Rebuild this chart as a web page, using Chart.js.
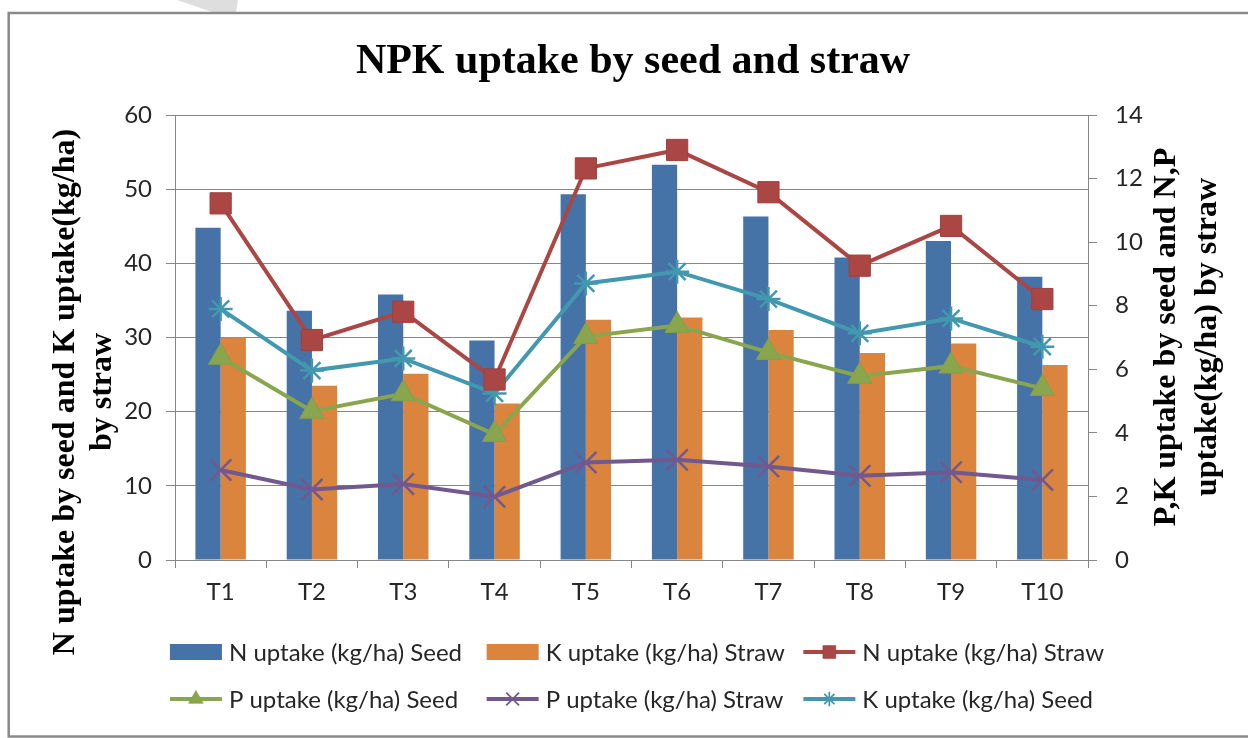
<!DOCTYPE html>
<html>
<head>
<meta charset="utf-8">
<script src="https://cdn.jsdelivr.net/npm/chart.js@4.4.0/dist/chart.umd.min.js"></script>
<style>
  html, body { margin: 0; padding: 0; background: #fff; }
</style>
</head>
<body>
<canvas id="grafico" width="1248" height="738"></canvas>
<script>
// Datos
const categorias = ['T1', 'T2', 'T3', 'T4', 'T5', 'T6', 'T7', 'T8', 'T9', 'T10'];
const nSemilla = [44.8, 33.6, 35.8, 29.6, 49.3, 53.3, 46.3, 40.8, 43.0, 38.2];   // eje izquierdo
const kPaja = [30.0, 23.5, 25.1, 21.1, 32.4, 32.7, 31.0, 27.9, 29.2, 26.3];      // eje izquierdo
const nPaja = [11.22, 6.92, 7.81, 5.68, 12.32, 12.90, 11.57, 9.26, 10.51, 8.21]; // eje derecho
const pSemilla = [6.38, 4.68, 5.23, 3.95, 7.03, 7.38, 6.53, 5.78, 6.10, 5.40];
const pPaja = [2.83, 2.22, 2.39, 1.99, 3.07, 3.15, 2.94, 2.65, 2.76, 2.52];
const kSemilla = [7.90, 5.96, 6.34, 5.24, 8.70, 9.07, 8.21, 7.13, 7.60, 6.71];
const ticksIzq = { min: 0, max: 60, paso: 10 };
const ticksDer = { min: 0, max: 14, paso: 2 };

const titulo = 'NPK uptake by seed and straw';
const tituloIzq = ['N uptake by seed and K uptake(kg/ha)', 'by straw'];
const tituloDer = ['P,K uptake by seed and N,P', 'uptake(kg/ha) by straw'];

const GRIS = '#868686';
const TEXTO = '#262626';

// marco gris y franja de fondo
const marco = {
  id: 'marco',
  beforeDraw(chart) {
    const ctx = chart.ctx;
    ctx.save();
    ctx.fillStyle = '#fff';
    ctx.fillRect(0, 0, chart.width, chart.height);
    ctx.fillStyle = '#dedede';
    ctx.beginPath();
    ctx.moveTo(177, 0); ctx.lineTo(238, 0); ctx.lineTo(236, 12); ctx.lineTo(212, 12);
    ctx.closePath();
    ctx.fill();
    ctx.strokeStyle = '#8a8a8a';
    ctx.lineWidth = 2.5;
    ctx.strokeRect(8.7, 13, 1270, 723.5);
    ctx.restore();
  }
};

// títulos de ejes en dos líneas, girados
const titulosEjes = {
  id: 'titulosEjes',
  afterDraw(chart) {
    const ctx = chart.ctx;
    const dibujar = (lineas, xs, yc) => {
      lineas.forEach((t, i) => {
        ctx.save();
        ctx.translate(xs[i], yc);
        ctx.rotate(-Math.PI / 2);
        ctx.font = 'bold 32px "Liberation Serif"';
        ctx.fillStyle = '#000';
        ctx.textAlign = 'center';
        ctx.textBaseline = 'middle';
        ctx.fillText(t, 0, 0);
        ctx.restore();
      });
    };
    dibujar(tituloIzq, [66, 103], 392);
    dibujar(tituloDer, [1167, 1208], 337);
  }
};

// leyenda en rejilla de 3 columnas, como en el original
const leyenda = {
  id: 'leyenda',
  afterDraw(chart) {
    const ctx = chart.ctx;
    const items = chart.data.datasets;
    ctx.save();
    ctx.font = '24px Lato';
    const anchoIcono = 52, sep = 7, hueco = 16, columnas = 3;
    const anchoCol = Math.max(...items.map(d => anchoIcono + sep + ctx.measureText(d.label).width)) + hueco;
    const x0 = 637 - (anchoCol * columnas - hueco) / 2;
    const filas = [652, 699];
    items.forEach((d, i) => {
      const x = x0 + (i % columnas) * anchoCol;
      const y = filas[Math.floor(i / columnas)];
      if (d.type === 'bar') {
        ctx.fillStyle = d.backgroundColor;
        ctx.fillRect(x, y - 8, anchoIcono, 16);
      } else {
        ctx.strokeStyle = d.borderColor;
        ctx.lineWidth = d.borderWidth;
        ctx.beginPath();
        ctx.moveTo(x, y);
        ctx.lineTo(x + anchoIcono, y);
        ctx.stroke();
        ctx.fillStyle = d.pointBackgroundColor;
        ctx.strokeStyle = d.pointBorderColor;
        ctx.lineWidth = d.pointBorderWidth * 0.7;
        Chart.helpers.drawPoint(ctx, {
          pointStyle: d.pointStyle, radius: d.pointRadius * 0.6,
          borderWidth: d.pointBorderWidth * 0.7, rotation: 0
        }, x + anchoIcono / 2, y);
      }
      ctx.fillStyle = TEXTO;
      ctx.textBaseline = 'middle';
      ctx.textAlign = 'left';
      ctx.fillText(d.label, x + anchoIcono + sep, y + 1);
    });
    ctx.restore();
  }
};

const lineaBase = { type: 'line', yAxisID: 'y1', order: 1, borderWidth: 4, tension: 0, fill: false };

new Chart(document.getElementById('grafico'), {
  data: {
    labels: categorias,
    datasets: [
      { type: 'bar', label: 'N uptake (kg/ha) Seed', data: nSemilla, backgroundColor: '#4572A7',
        yAxisID: 'y', order: 2, categoryPercentage: 0.553, barPercentage: 1 },
      { type: 'bar', label: 'K uptake (kg/ha) Straw', data: kPaja, backgroundColor: '#DB843D',
        yAxisID: 'y', order: 2, categoryPercentage: 0.553, barPercentage: 1 },
      { ...lineaBase, label: 'N uptake (kg/ha) Straw', data: nPaja, borderColor: '#AA4643',
        pointStyle: 'rect', pointRadius: 15, pointBackgroundColor: '#AA4643', pointBorderColor: '#A13F3C', pointBorderWidth: 1 },
      { ...lineaBase, label: 'P uptake (kg/ha) Seed', data: pSemilla, borderColor: '#89A54E',
        pointStyle: 'triangle', pointRadius: 14, pointBackgroundColor: '#89A54E', pointBorderColor: '#84A04A', pointBorderWidth: 1 },
      { ...lineaBase, label: 'P uptake (kg/ha) Straw', data: pPaja, borderColor: '#71588F',
        pointStyle: 'crossRot', pointRadius: 15, pointBackgroundColor: '#71588F', pointBorderColor: '#71588F', pointBorderWidth: 2.5 },
      { ...lineaBase, label: 'K uptake (kg/ha) Seed', data: kSemilla, borderColor: '#4198AF',
        pointStyle: 'star', pointRadius: 12, pointBackgroundColor: '#4198AF', pointBorderColor: '#4198AF', pointBorderWidth: 2.5 }
    ]
  },
  options: {
    responsive: false,
    animation: false,
    layout: { padding: { left: 18, right: 0, top: 15, bottom: 121.5 } },
    plugins: {
      legend: { display: false },
      tooltip: { enabled: false },
      title: {
        display: true,
        text: titulo,
        color: '#000',
        font: { family: '"Liberation Serif"', size: 42, weight: 'bold' },
        padding: { top: 22, bottom: 27.6 }
      }
    },
    scales: {
      x: {
        offset: true,
        grid: { display: true, drawOnChartArea: false, drawTicks: true, tickLength: 8, color: GRIS, offset: true },
        border: { display: true, color: GRIS },
        ticks: { color: TEXTO, font: { family: 'Lato', size: 24 }, padding: 10, maxRotation: 0 },
        afterFit: s => { s.height = 56.5; }
      },
      y: {
        position: 'left',
        min: ticksIzq.min, max: ticksIzq.max,
        grid: { color: GRIS, tickLength: 9 },
        border: { display: true, color: GRIS },
        ticks: { stepSize: ticksIzq.paso, color: TEXTO, font: { family: 'Lato', size: 24 }, padding: 14 },
        afterFit: s => { s.width = 157; }
      },
      y1: {
        position: 'right',
        min: ticksDer.min, max: ticksDer.max,
        grid: { drawOnChartArea: false, color: GRIS, tickLength: 9 },
        border: { display: true, color: GRIS },
        ticks: { stepSize: ticksDer.paso, color: TEXTO, font: { family: 'Lato', size: 24 }, padding: 18 },
        afterFit: s => { s.width = 160; }
      }
    }
  },
  plugins: [marco, titulosEjes, leyenda]
});
</script>
</body>
</html>
